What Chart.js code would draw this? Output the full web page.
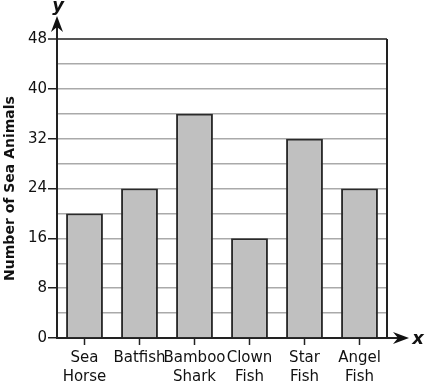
<!DOCTYPE html>
<html>
<head>
<meta charset="utf-8">
<script src="https://cdn.jsdelivr.net/npm/chart.js@4"></script>
<style>
html,body{margin:0;padding:0;background:#fff;}
#wrap{width:426px;height:385px;position:relative;}
</style>
</head>
<body>
<div id="wrap"><canvas id="c" width="426" height="385"></canvas></div>
<script>
const categories = [['Sea','Horse'], 'Batfish', ['Bamboo','Shark'], ['Clown','Fish'], ['Star','Fish'], ['Angel','Fish']];
const seaAnimals = [20, 24, 36, 16, 32, 24];
const yMin = 0, yMax = 48, yStep = 4, yLabelStep = 8;
const yTitle = 'Number of Sea Animals';

const FONT = "'DejaVu Sans', Verdana, sans-serif";

const arrowPlugin = {
  id: 'arrows',
  afterDraw(chart) {
    const {ctx, chartArea: a} = chart;
    ctx.save();
    ctx.strokeStyle = '#222';
    ctx.fillStyle = '#111';
    // right border
    ctx.lineWidth = 2;
    ctx.beginPath();
    ctx.moveTo(a.right, a.top);
    ctx.lineTo(a.right, a.bottom);
    ctx.stroke();
    // y axis extension
    ctx.beginPath();
    ctx.moveTo(a.left, a.top);
    ctx.lineTo(a.left, 24);
    ctx.stroke();
    ctx.beginPath();
    ctx.moveTo(a.left, 16);
    ctx.lineTo(a.left - 6, 32);
    ctx.lineTo(a.left, 27);
    ctx.lineTo(a.left + 6, 32);
    ctx.closePath();
    ctx.fill();
    // x axis extension
    ctx.beginPath();
    ctx.moveTo(a.right, a.bottom);
    ctx.lineTo(400, a.bottom);
    ctx.stroke();
    ctx.beginPath();
    ctx.moveTo(409, a.bottom);
    ctx.lineTo(393, a.bottom - 6);
    ctx.lineTo(398, a.bottom);
    ctx.lineTo(393, a.bottom + 6);
    ctx.closePath();
    ctx.fill();
    // axis letters
    ctx.font = "italic bold 18px " + FONT;
    ctx.textAlign = 'center';
    ctx.textBaseline = 'middle';
    ctx.fillText('y', a.left + 1, 6);
    ctx.fillText('x', 418, a.bottom + 1);
    ctx.restore();
  }
};

new Chart(document.getElementById('c'), {
  type: 'bar',
  data: {
    labels: categories,
    datasets: [{
      data: seaAnimals,
      backgroundColor: '#c0c0c0',
      borderColor: '#2a2a2a',
      borderWidth: 2,
      categoryPercentage: 1,
      barPercentage: 0.67
    }]
  },
  options: {
    responsive: false,
    animation: false,
    devicePixelRatio: 1,
    layout: {padding: {left: 0, right: 39, top: 39, bottom: 0}},
    plugins: {legend: {display: false}, tooltip: {enabled: false}},
    scales: {
      x: {
        afterFit(s) { s.height = 47; },
        grid: {offset: false, drawOnChartArea: false, tickLength: 7, tickColor: '#222', tickWidth: 1.5},
        border: {color: '#222', width: 2},
        ticks: {color: '#111', padding: 4, font: {family: FONT, size: 15, lineHeight: 1.27}, maxRotation: 0, autoSkip: false}
      },
      y: {
        min: yMin, max: yMax,
        afterFit(s) { s.width = 57; },
        grid: {
          color: c => c.tick && c.tick.value === yMax ? '#555' : '#aaaaaa',
          lineWidth: c => c.tick && c.tick.value === yMax ? 2 : 1.5,
          tickLength: 9,
          tickColor: c => c.tick && c.tick.value % yLabelStep === 0 ? '#222' : 'rgba(0,0,0,0)',
          tickWidth: 1.5
        },
        border: {color: '#222', width: 2},
        ticks: {
          stepSize: yStep, color: '#111', padding: 1,
          font: {family: FONT, size: 15},
          callback: v => v % yLabelStep === 0 ? String(v) : ''
        },
        title: {display: true, text: yTitle, color: '#111', padding: {top: 2, bottom: 2}, font: {family: FONT, size: 14, weight: 'bold'}}
      }
    }
  },
  plugins: [arrowPlugin]
});
</script>
</body>
</html>
